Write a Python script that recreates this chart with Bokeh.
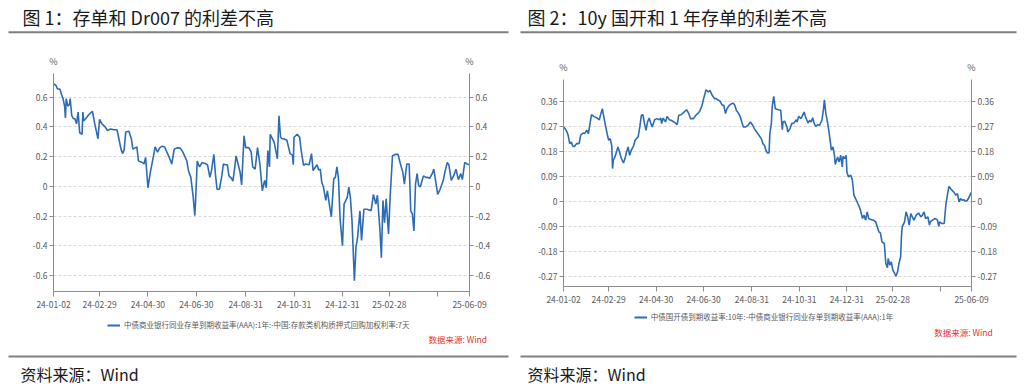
import pandas as pd
from bokeh.plotting import figure
from bokeh.models import (Range1d, LinearAxis, FixedTicker, NumeralTickFormatter,
                          Label, Legend, LegendItem)
from bokeh.layouts import row, column
from bokeh.embed import file_html
from bokeh.resources import INLINE

# ---------------- data ----------------
START = "2024-01-02"
X_TICK_DATES = ["2024-01-02", "2024-02-29", "2024-04-30", "2024-06-30", "2024-08-31",
                "2024-10-31", "2024-12-31", "2025-02-28", "2025-04-30", "2025-06-09"]
X_TICK_LABELS = ["24-01-02", "24-02-29", "24-04-30", "24-06-30", "24-08-31",
                 "24-10-31", "24-12-31", "25-02-28", "", "25-06-09"]

L_TITLE = "图 1：存单和 Dr007 的利差不高"
L_LEGEND = "中债商业银行同业存单到期收益率(AAA):1年:-中国:存款类机构质押式回购加权利率:7天"
L_YTICKS = [-0.6, -0.4, -0.2, 0, 0.2, 0.4, 0.6]
# days since 2024-01-02
L_DAYS = [0, 3, 5, 8, 10, 12, 14, 15, 16, 18, 20, 21, 23, 25, 27, 29, 31, 33, 36, 37, 38, 42, 44,
          49, 52, 56, 58, 61, 65, 68, 72, 76, 80, 82, 85, 87, 89, 91, 95, 98, 100, 105, 107, 112,
          114, 116, 119, 122, 126, 128, 131, 134, 137, 140, 142, 145, 149, 152, 156, 160, 163,
          168, 170, 173, 176, 178, 179, 181, 184, 187, 190, 194, 197, 199, 202, 204, 206, 209,
          212, 214, 216, 219, 221, 224, 226, 228, 230, 233, 235, 237, 240, 242, 246, 249, 251,
          254, 257, 260, 263, 266, 268, 270, 272, 273, 278, 282, 284, 286, 288, 290, 294, 298,
          301, 302, 303, 307, 310, 312, 315, 317, 322, 325, 327, 330, 332, 334, 336, 338, 340,
          343, 345, 348, 350, 353, 355, 357, 359, 361, 364, 366, 370, 372, 374, 376, 379, 381,
          383, 386, 388, 391, 395, 400, 403, 406, 408, 411, 413, 415, 417, 419, 422, 424, 427,
          431, 434, 437, 440, 442, 445, 448, 450, 452, 454, 456, 458, 460, 462, 466, 469, 471,
          474, 477, 479, 482, 484, 487, 491, 493, 496, 498, 501, 504, 507, 510, 513, 515, 518,
          521, 524]
L_VALUES = [0.69, 0.68, 0.655, 0.655, 0.62, 0.59, 0.54, 0.46, 0.59, 0.54, 0.55, 0.59, 0.475,
            0.455, 0.455, 0.42, 0.50, 0.36, 0.35, 0.50, 0.44, 0.465, 0.48, 0.505, 0.42, 0.32,
            0.45, 0.42, 0.40, 0.375, 0.385, 0.38, 0.38, 0.33, 0.25, 0.22, 0.245, 0.365, 0.37,
            0.32, 0.25, 0.265, 0.17, 0.16, 0.15, 0.195, -0.01, 0.095, 0.205, 0.265, 0.23, 0.26,
            0.27, 0.265, 0.24, 0.205, 0.15, 0.25, 0.26, 0.255, 0.23, 0.17, 0.105, 0.06, -0.075,
            -0.197, -0.095, 0.17, 0.13, 0.16, 0.155, 0.145, 0.06, 0.105, 0.215, 0.08, -0.02,
            -0.02, 0.07, 0.15, 0.145, 0.145, 0.07, 0.055, 0.035, 0.115, 0.205, 0.14, 0.095,
            0.01, 0.34, 0.26, 0.26, 0.23, 0.13, 0.115, 0.26, 0.15, -0.03, 0.04, -0.01, 0.24,
            0.13, 0.35, 0.295, 0.185, 0.475, 0.33, 0.32, 0.32, 0.31, 0.22, 0.21, 0.145, 0.33,
            0.35, 0.33, 0.24, 0.14, 0.15, 0.145, 0.22, 0.105, 0.13, 0.145, 0.11, 0.115, 0.025,
            -0.005, -0.095, -0.03, -0.14, -0.205, 0.05, 0.06, 0.13, 0.05, -0.22, -0.40, -0.12,
            -0.075, -0.005, -0.075, -0.23, -0.635, -0.41, -0.345, -0.165, -0.365, -0.155,
            -0.155, -0.165, -0.055, -0.12, -0.06, -0.28, -0.48, -0.095, -0.245, -0.085, -0.32,
            -0.075, 0.205, 0.215, 0.215, 0.15, 0.095, 0.015, 0.15, 0.15, -0.165, -0.185, -0.30,
            0.015, 0.085, 0.005, -0.005, 0.07, 0.06, 0.06, 0.055, 0.085, 0.115, 0.015, -0.055,
            -0.02, 0.04, 0.095, 0.16, 0.145, 0.04, 0.07, 0.115, 0.045, 0.085, 0.045, 0.16, 0.15,
            0.145]

R_TITLE = "图 2：10y 国开和 1 年存单的利差不高"
R_LEGEND = "中债国开债到期收益率:10年:-中债商业银行同业存单到期收益率(AAA):1年"
R_YTICKS = [-0.27, -0.18, -0.09, 0, 0.09, 0.18, 0.27, 0.36]
R_DAYS = [0, 2, 4, 6, 8, 10, 12, 14, 17, 20, 22, 25, 27, 30, 32, 34, 36, 39, 43, 46, 48, 50, 51,
          53, 56, 58, 60, 62, 63, 64, 66, 68, 70, 72, 74, 77, 79, 81, 83, 85, 87, 90, 92, 96, 98,
          100, 102, 104, 106, 108, 110, 112, 114, 117, 120, 123, 125, 126, 128, 131, 133, 136,
          138, 142, 146, 148, 151, 155, 158, 161, 163, 167, 170, 173, 175, 178, 180, 183, 186,
          188, 191, 194, 196, 198, 201, 204, 206, 208, 210, 213, 216, 218, 220, 222, 225, 227,
          229, 231, 234, 237, 240, 243, 245, 248, 251, 254, 256, 258, 260, 262, 264, 265, 267,
          268, 270, 272, 276, 279, 281, 282, 284, 287, 288, 291, 293, 296, 299, 300, 302, 305,
          307, 309, 311, 314, 316, 318, 320, 322, 324, 327, 329, 332, 334, 335, 337, 339, 341,
          343, 344, 346, 348, 349, 352, 354, 356, 358, 359, 361, 363, 364, 366, 369, 371, 373,
          376, 378, 380, 382, 384, 386, 388, 390, 392, 395, 398, 401, 403, 405, 407, 409, 412,
          414, 416, 417, 419, 421, 423, 425, 427, 429, 431, 433, 434, 435, 438, 440, 442, 444,
          446, 448, 450, 453, 456, 459, 461, 463, 465, 468, 470, 471, 474, 477, 480, 482, 483,
          486, 489, 491, 493, 495, 497, 499, 501, 504, 506, 508, 510, 512, 514, 516, 518, 520,
          523, 524]
R_VALUES = [0.268, 0.262, 0.253, 0.238, 0.208, 0.214, 0.199, 0.198, 0.208, 0.208, 0.238, 0.246,
            0.244, 0.256, 0.244, 0.28, 0.312, 0.306, 0.30, 0.294, 0.316, 0.334, 0.316, 0.286,
            0.244, 0.22, 0.226, 0.20, 0.118, 0.148, 0.16, 0.178, 0.196, 0.178, 0.157, 0.138,
            0.154, 0.178, 0.196, 0.166, 0.184, 0.20, 0.22, 0.234, 0.268, 0.31, 0.312, 0.28,
            0.256, 0.286, 0.30, 0.282, 0.268, 0.294, 0.298, 0.294, 0.30, 0.28, 0.30, 0.286,
            0.306, 0.294, 0.292, 0.286, 0.276, 0.31, 0.312, 0.322, 0.33, 0.316, 0.298, 0.298,
            0.31, 0.318, 0.325, 0.346, 0.37, 0.402, 0.394, 0.40, 0.382, 0.37, 0.37, 0.366,
            0.361, 0.346, 0.346, 0.316, 0.334, 0.346, 0.352, 0.354, 0.346, 0.328, 0.316, 0.304,
            0.286, 0.268, 0.268, 0.274, 0.286, 0.274, 0.262, 0.25, 0.238, 0.226, 0.208, 0.202,
            0.184, 0.174, 0.174, 0.244, 0.28, 0.34, 0.378, 0.334, 0.33, 0.328, 0.258, 0.286,
            0.289, 0.268, 0.25, 0.262, 0.28, 0.282, 0.294, 0.286, 0.306, 0.298, 0.31, 0.322,
            0.304, 0.282, 0.292, 0.286, 0.301, 0.28, 0.27, 0.276, 0.274, 0.294, 0.334, 0.366,
            0.316, 0.286, 0.25, 0.208, 0.184, 0.196, 0.166, 0.133, 0.16, 0.142, 0.166, 0.124,
            0.162, 0.154, 0.166, 0.106, 0.088, 0.094, 0.076, 0.022, 0.004, -0.008, -0.02,
            -0.038, -0.062, -0.05, -0.068, -0.038, -0.062, -0.066, -0.068, -0.074, -0.092,
            -0.11, -0.114, -0.146, -0.152, -0.224, -0.239, -0.206, -0.23, -0.218, -0.248,
            -0.258, -0.27, -0.254, -0.222, -0.20, -0.128, -0.092, -0.074, -0.038, -0.056,
            -0.086, -0.044, -0.056, -0.068, -0.05, -0.042, -0.056, -0.05, -0.038, -0.062,
            -0.056, -0.086, -0.074, -0.068, -0.062, -0.066, -0.09, -0.074, -0.08, -0.08,
            -0.014, 0.022, 0.054, 0.046, 0.04, 0.034, 0.022, 0.028, -0.002, 0.01, 0.004, 0.006,
            0.001, 0.001, 0.01, 0.028, 0.032]

SOURCE = "资料来源：Wind"
NOTE = "数据来源: Wind"
UNIT = "%"

# ---------------- styling ----------------
FONT = "Noto Sans CJK SC"
LINE_COLOR = "#2d6cb5"
AXIS_COLOR = "#8c8c8c"
TICK_TEXT = "#595959"
RULE_COLOR = "#7f7f7f"
W = 512
TOTAL_H = 384


def to_ms(d):
    return float(pd.Timestamp(d).value // 10**6)


def strip(h):
    """A plain drawing area whose data units are its own pixels (y downwards)."""
    s = figure(width=W, height=h, x_range=Range1d(0, W), y_range=Range1d(h, 0),
               x_axis_location=None, y_axis_location=None, output_backend="svg",
               toolbar_location=None, min_border=0, frame_align=False)
    s.grid.visible = False
    s.outline_line_color = None
    s.background_fill_color = "white"
    s.border_fill_color = "white"
    return s


def text(s, t, x, y, size, color, align="left"):
    s.add_layout(Label(x=x, y=y, text=t, text_font=FONT, text_font_size=size,
                       text_color=color, text_align=align, text_baseline="middle"))


def rule(s, y, x0, x1):
    s.quad(left=[x0], right=[x1], top=[y - 1], bottom=[y + 1],
           fill_color=RULE_COLOR, line_alpha=0)


def make_chart(title, legend_label, days, values, yticks, yr, g):
    dates = pd.Timestamp(START) + pd.to_timedelta(days, unit="D")
    fl, fr, ftop, fh = g["frame"]          # frame left/right (px), top offset, frame height
    main_h = fh + 24
    bottom_h = TOTAL_H - ftop - main_h

    # ---- header strip: title, rule, unit labels
    top = strip(ftop)
    rule(top, 31.7, g["rule_x"][0], g["rule_x"][1])
    text(top, title, g["title_x"], 16, "18px", "#1a1a1a")
    text(top, UNIT, fl, ftop - 12.5, "9px", TICK_TEXT, "center")
    text(top, UNIT, fr, ftop - 12.5, "9px", TICK_TEXT, "center")

    # ---- main chart
    p = figure(width=W, height=main_h, x_axis_type="datetime",
               x_range=Range1d(to_ms(dates[0]), to_ms(dates[-1])),
               y_range=Range1d(*yr),
               output_backend="svg", toolbar_location=None, frame_align=False,
               min_border_left=fl, min_border_right=W - fr,
               min_border_top=0, min_border_bottom=24)
    p.outline_line_color = None
    p.background_fill_color = "white"
    p.border_fill_color = "white"
    p.line(x=dates, y=values, line_color=LINE_COLOR, line_width=1.6)

    xt = [to_ms(d) for d in X_TICK_DATES]
    p.xaxis.ticker = FixedTicker(ticks=xt)
    p.xaxis.major_label_overrides = {t: lab for t, lab in zip(xt, X_TICK_LABELS)}
    yticker = FixedTicker(ticks=yticks)
    p.yaxis.ticker = yticker
    p.yaxis.formatter = NumeralTickFormatter(format="0.[00]")
    raxis = LinearAxis(ticker=yticker, formatter=NumeralTickFormatter(format="0.[00]"))
    p.add_layout(raxis, "right")
    for ax in [p.xaxis[0], p.yaxis[0], raxis]:
        ax.axis_line_color = AXIS_COLOR
        ax.major_tick_line_color = AXIS_COLOR
        ax.major_tick_in = 0
        ax.major_tick_out = 4
        ax.minor_tick_in = 0
        ax.minor_tick_out = 0
        ax.major_label_text_font = FONT
        ax.major_label_text_font_size = "8.5px"
        ax.major_label_text_color = TICK_TEXT
        ax.major_label_standoff = 2
    p.xaxis[0].major_tick_out = 5
    p.xaxis[0].major_label_standoff = 4
    p.xgrid.visible = False
    p.ygrid[0].ticker = yticker
    p.ygrid.grid_line_color = "#d9d9d9"
    p.ygrid.grid_line_dash = "3 2"

    # ---- footer strip: legend, note, rule, source
    bot = strip(bottom_h)
    key = bot.line(x=dates, y=values, line_color=LINE_COLOR, line_width=2, visible=False)
    lx, ly = g["legend"]
    legend = Legend(items=[LegendItem(label=legend_label, renderers=[key])],
                    location=(lx, bottom_h - ly - 5), orientation="horizontal",
                    padding=0, margin=0, border_line_alpha=0, background_fill_alpha=0,
                    glyph_width=13, glyph_height=10, label_height=10, label_standoff=4,
                    label_text_font=FONT, label_text_font_size="7.5px",
                    label_text_color=TICK_TEXT)
    bot.add_layout(legend)
    text(bot, NOTE, g["note"][0], g["note"][1], "8.5px", "#e5332a")
    rule(bot, g["rule_bottom"], g["rule_x"][0], g["rule_x"][1])
    text(bot, SOURCE, g["source"][0], g["source"][1], "16px", "#1a1a1a")

    return column(top, p, bot)


# positions in px, relative to each panel
left_geom = dict(frame=(53, 469, 73, 218), title_x=22, rule_x=(8, 508),
                 legend=(107, 10), note=(428, 23), rule_bottom=41, source=(20, 58))
right_geom = dict(frame=(51, 459, 79, 207), title_x=15, rule_x=(8, 504),
                  legend=(121.7, 7), note=(421.7, 21), rule_bottom=46, source=(15, 63))

c1 = make_chart(L_TITLE, L_LEGEND, L_DAYS, L_VALUES, L_YTICKS, (-0.708, 0.759), left_geom)
c2 = make_chart(R_TITLE, R_LEGEND, R_DAYS, R_VALUES, R_YTICKS, (-0.307, 0.439), right_geom)

layout = row(c1, c2)
open("out.html", "w").write(file_html(layout, INLINE))
